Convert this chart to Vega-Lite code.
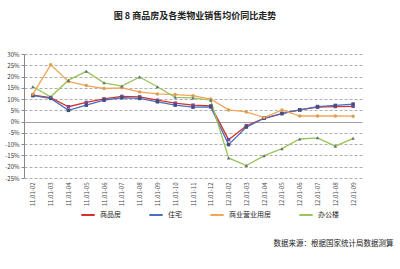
{
  "$schema": "https://vega.github.io/schema/vega-lite/v6.json",
  "width": 338,
  "height": 124,
  "autosize": {"type": "none"},
  "padding": {"left": 24, "top": 54, "right": 38, "bottom": 91},
  "background": "white",
  "config": {
    "font": "Noto Sans CJK SC",
    "view": {"stroke": null}
  },
  "title": {
    "text": "图 8 商品房及各类物业销售均价同比走势",
    "font": "Noto Sans CJK SC",
    "fontSize": 9,
    "fontWeight": "bold",
    "color": "#222",
    "anchor": "middle",
    "offset": 30,
    "dx": 2
  },
  "data": {
    "values": [
      {"s":"商品房","m":"11.01-02","v":11.8},{"s":"商品房","m":"11.01-03","v":10.6},{"s":"商品房","m":"11.01-04","v":6.6},{"s":"商品房","m":"11.01-05","v":8.5},{"s":"商品房","m":"11.01-06","v":10.1},{"s":"商品房","m":"11.01-07","v":11.2},{"s":"商品房","m":"11.01-08","v":11.0},{"s":"商品房","m":"11.01-09","v":9.5},{"s":"商品房","m":"11.01-10","v":8.2},{"s":"商品房","m":"11.01-11","v":7.3},{"s":"商品房","m":"11.01-12","v":7.0},{"s":"商品房","m":"12.01-02","v":-8.0},{"s":"商品房","m":"12.01-03","v":-1.8},{"s":"商品房","m":"12.01-04","v":1.5},{"s":"商品房","m":"12.01-05","v":3.6},{"s":"商品房","m":"12.01-06","v":5.2},{"s":"商品房","m":"12.01-07","v":6.4},{"s":"商品房","m":"12.01-08","v":6.7},{"s":"商品房","m":"12.01-09","v":6.8},
      {"s":"住宅","m":"11.01-02","v":11.5},{"s":"住宅","m":"11.01-03","v":10.3},{"s":"住宅","m":"11.01-04","v":5.0},{"s":"住宅","m":"11.01-05","v":7.3},{"s":"住宅","m":"11.01-06","v":9.5},{"s":"住宅","m":"11.01-07","v":10.6},{"s":"住宅","m":"11.01-08","v":10.3},{"s":"住宅","m":"11.01-09","v":8.8},{"s":"住宅","m":"11.01-10","v":7.3},{"s":"住宅","m":"11.01-11","v":6.4},{"s":"住宅","m":"11.01-12","v":6.5},{"s":"住宅","m":"12.01-02","v":-10.2},{"s":"住宅","m":"12.01-03","v":-2.4},{"s":"住宅","m":"12.01-04","v":1.5},{"s":"住宅","m":"12.01-05","v":3.6},{"s":"住宅","m":"12.01-06","v":5.2},{"s":"住宅","m":"12.01-07","v":6.7},{"s":"住宅","m":"12.01-08","v":7.2},{"s":"住宅","m":"12.01-09","v":7.8},
      {"s":"商业营业用房","m":"11.01-02","v":12.2},{"s":"商业营业用房","m":"11.01-03","v":25.2},{"s":"商业营业用房","m":"11.01-04","v":17.8},{"s":"商业营业用房","m":"11.01-05","v":16.0},{"s":"商业营业用房","m":"11.01-06","v":14.7},{"s":"商业营业用房","m":"11.01-07","v":15.0},{"s":"商业营业用房","m":"11.01-08","v":13.2},{"s":"商业营业用房","m":"11.01-09","v":12.3},{"s":"商业营业用房","m":"11.01-10","v":12.0},{"s":"商业营业用房","m":"11.01-11","v":11.5},{"s":"商业营业用房","m":"11.01-12","v":10.0},{"s":"商业营业用房","m":"12.01-02","v":5.2},{"s":"商业营业用房","m":"12.01-03","v":4.3},{"s":"商业营业用房","m":"12.01-04","v":1.8},{"s":"商业营业用房","m":"12.01-05","v":5.2},{"s":"商业营业用房","m":"12.01-06","v":2.5},{"s":"商业营业用房","m":"12.01-07","v":2.5},{"s":"商业营业用房","m":"12.01-08","v":2.5},{"s":"商业营业用房","m":"12.01-09","v":2.4},
      {"s":"办公楼","m":"11.01-02","v":15.5},{"s":"办公楼","m":"11.01-03","v":11.0},{"s":"办公楼","m":"11.01-04","v":18.4},{"s":"办公楼","m":"11.01-05","v":22.3},{"s":"办公楼","m":"11.01-06","v":17.2},{"s":"办公楼","m":"11.01-07","v":15.8},{"s":"办公楼","m":"11.01-08","v":19.8},{"s":"办公楼","m":"11.01-09","v":15.5},{"s":"办公楼","m":"11.01-10","v":10.8},{"s":"办公楼","m":"11.01-11","v":10.5},{"s":"办公楼","m":"11.01-12","v":9.5},{"s":"办公楼","m":"12.01-02","v":-16.1},{"s":"办公楼","m":"12.01-03","v":-19.5},{"s":"办公楼","m":"12.01-04","v":-15.1},{"s":"办公楼","m":"12.01-05","v":-12.0},{"s":"办公楼","m":"12.01-06","v":-7.7},{"s":"办公楼","m":"12.01-07","v":-7.2},{"s":"办公楼","m":"12.01-08","v":-10.9},{"s":"办公楼","m":"12.01-09","v":-7.4}
    ]
  },
  "encoding": {
    "x": {
      "field": "m", "type": "ordinal", "sort": null,
      "scale": {"type": "point", "padding": 0.5},
      "axis": {
        "title": "数据来源：根据国家统计局数据测算",
        "titleFont": "Noto Sans CJK SC",
        "titleFontSize": 7.5,
        "titleFontWeight": "normal",
        "titleColor": "#222",
        "titleAnchor": "end",
        "titleAlign": "right",
        "titleBaseline": "middle",
        "titleX": 369,
        "titleY": 65,
        "labelAngle": -90,
        "labelFontSize": 6,
        "labelColor": "#444",
        "labelPadding": 4,
        "labelOverlap": false,
        "domain": false,
        "ticks": false,
        "grid": false
      }
    },
    "y": {
      "field": "v", "type": "quantitative",
      "scale": {"domain": [-25, 30], "nice": false, "zero": false},
      "axis": {
        "title": null,
        "values": [-25, -20, -15, -10, -5, 0, 5, 10, 15, 20, 25, 30],
        "labelExpr": "datum.value + '%'",
        "labelFontSize": 6,
        "labelColor": "#333",
        "labelPadding": 2,
        "labelOverlap": false,
        "labelFlush": false,
        "labelBound": false,
        "domainColor": "#888",
        "tickColor": "#888",
        "tickSize": 3,
        "grid": true,
        "gridColor": {"condition": {"test": "datum.value === 0", "value": "#888"}, "value": "#999"},
        "gridDash": {"condition": {"test": "datum.value === 0", "value": []}, "value": [3, 2]},
        "gridWidth": 0.8
      }
    }
  },
  "layer": [
    {
      "mark": {"type": "line", "strokeWidth": 1.3},
      "encoding": {
        "color": {
          "field": "s", "type": "nominal",
          "scale": {
            "domain": ["商品房", "住宅", "商业营业用房", "办公楼"],
            "range": ["#D9302C", "#4A6FC0", "#F2A65A", "#9BC45A"]
          },
          "legend": {
            "orient": "none",
            "direction": "horizontal",
            "legendX": 56,
            "legendY": 153,
            "title": null,
            "symbolType": "stroke",
            "symbolSize": 180,
            "symbolStrokeWidth": 2,
            "labelFont": "Noto Sans CJK SC",
            "labelFontSize": 7,
            "labelColor": "#222",
            "columnPadding": 24
          }
        }
      }
    },
    {
      "mark": {"type": "point", "filled": true, "size": 12, "opacity": 1},
      "encoding": {
        "shape": {
          "field": "s", "type": "nominal",
          "scale": {"domain": ["商品房", "住宅", "商业营业用房", "办公楼"], "range": ["square", "square", "circle", "triangle-up"]},
          "legend": null
        },
        "color": {
          "field": "s", "type": "nominal",
          "scale": {
            "domain": ["商品房", "住宅", "商业营业用房", "办公楼"],
            "range": ["#7A4A9A", "#44507A", "#D9A050", "#5C6E80"]
          },
          "legend": null
        }
      }
    }
  ],
  "resolve": {"scale": {"color": "independent"}}
}
